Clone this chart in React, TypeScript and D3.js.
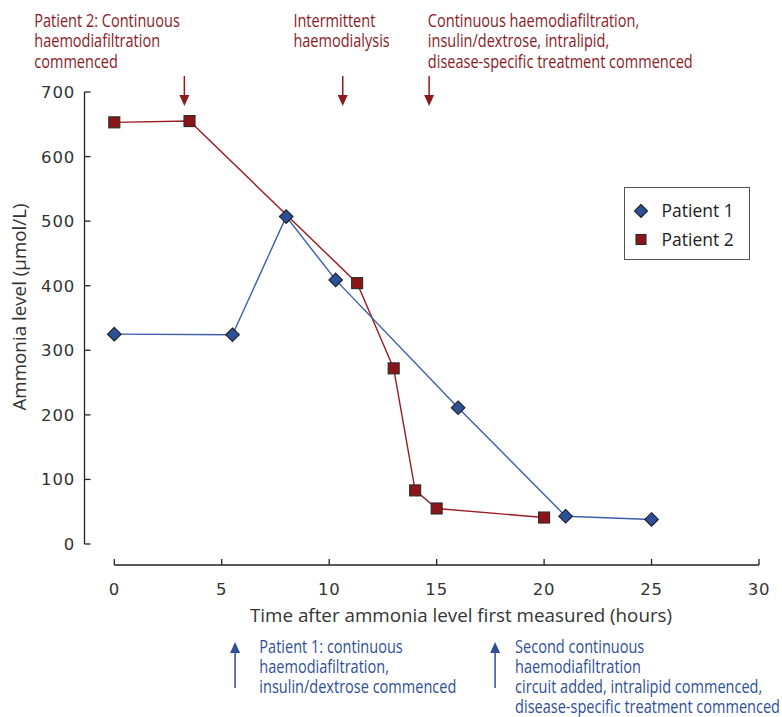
import React from "react";
import * as d3 from "d3";

const p1Time = [0, 5.5, 8, 10.3, 16, 21, 25];
const p1Value = [325, 324, 507, 409, 211, 43, 38];
const p2Time = [0, 3.5, 11.3, 13, 14, 15, 20];
const p2Value = [653, 655, 404, 272, 83, 55, 41];

const xTicks = [0, 5, 10, 15, 20, 25, 30];
const yTicks = [0, 100, 200, 300, 400, 500, 600, 700];

const topEventTimes = [3.26, 10.63, 14.65];
const topTextTimes = [-3.725, 8.333, 14.59];
const topEventLines = [
  ["Patient 2: Continuous", "haemodiafiltration", "commenced"],
  ["Intermittent", "haemodialysis"],
  ["Continuous haemodiafiltration,", "insulin/dextrose, intralipid,", "disease-specific treatment commenced"],
];

const bottomEventTimes = [5.62, 17.72];
const bottomTextTimes = [6.75, 18.65];
const bottomEventLines = [
  ["Patient 1: continuous", "haemodiafiltration,", "insulin/dextrose commenced"],
  ["Second continuous", "haemodiafiltration", "circuit added, intralipid commenced,", "disease-specific treatment commenced"],
];

const RED = "#8d1a1f";
const BLUE = "#2f4f96";
const RED_LINE = "#9a1c22";
const BLUE_LINE = "#3a5fab";
const RED_FILL = "#8c1519";
const BLUE_FILL = "#2d5199";
const annFont = "'Open Sans', sans-serif";
const mainFont = "'Open Sans', sans-serif";
const tickFont = "'DejaVu Sans', sans-serif";
const SQ = 0.83;

export default function App() {
  const W = 782, H = 717;
  const x = d3.scaleLinear().domain([0, 30]).range([114.3, 759]);
  const y = d3.scaleLinear().domain([0, 700]).range([544, 92]);
  const xAxisY = 565;
  const yAxisX = 84.5;

  const line = d3.line<[number, number]>().x(d => x(d[0])).y(d => y(d[1]));
  const p1: [number, number][] = p1Time.map((t, i) => [t, p1Value[i]]);
  const p2: [number, number][] = p2Time.map((t, i) => [t, p2Value[i]]);

  const diamond = (cx: number, cy: number, r = 6.8) =>
    `M${cx},${cy - r}L${cx + r},${cy}L${cx},${cy + r}L${cx - r},${cy}Z`;

  const annotation = (lines: string[], x0: number, y0: number, gap: number, color: string, key: string) => (
    <g key={key} transform={`translate(${x0},0) scale(${SQ},1)`}>
      {lines.map((l, j) => (
        <text key={j} x={0} y={y0 + j * gap} fontFamily={annFont} fontSize={17.5} fill={color}>{l}</text>
      ))}
    </g>
  );

  return (
    <svg width={W} height={H} style={{ position: "absolute", left: 0, top: 0 }}>
      <rect x={0} y={0} width={W} height={H} fill="#fff" />
      {/* y axis */}
      <line x1={yAxisX} x2={yAxisX} y1={y(700)} y2={y(0)} stroke="#222" strokeWidth={1.3} />
      {yTicks.map(t => (
        <g key={"y" + t}>
          <line x1={yAxisX} x2={yAxisX + 6} y1={y(t)} y2={y(t)} stroke="#222" strokeWidth={1.3} />
          <text x={75} y={y(t)} dy="0.36em" textAnchor="end" fontFamily={tickFont} fontSize={16.5} letterSpacing={0.8} fill="#333">{t}</text>
        </g>
      ))}
      {/* x axis */}
      <line x1={x(0)} x2={x(30)} y1={xAxisY} y2={xAxisY} stroke="#222" strokeWidth={1.3} />
      {xTicks.map(t => (
        <g key={"x" + t}>
          <line x1={x(t)} x2={x(t)} y1={xAxisY} y2={xAxisY - 6} stroke="#222" strokeWidth={1.3} />
          <text x={x(t)} y={589} dy="0.36em" textAnchor="middle" fontFamily={tickFont} fontSize={16.5} letterSpacing={0.8} fill="#333">{t}</text>
        </g>
      ))}
      <text x={250} y={622} fontFamily={mainFont} fontSize={18.8} fill="#333">Time after ammonia level first measured (hours)</text>
      <text transform={`translate(26,307) rotate(-90)`} textAnchor="middle" fontFamily={mainFont} fontSize={18.8} fill="#333">Ammonia level (µmol/L)</text>

      {/* lines */}
      <path d={line(p2) || ""} fill="none" stroke={RED_LINE} strokeWidth={1.4} />
      <path d={line(p1) || ""} fill="none" stroke={BLUE_LINE} strokeWidth={1.4} />
      {/* markers */}
      {p2.map((d, i) => (
        <rect key={"s" + i} x={x(d[0]) - 5.5} y={y(d[1]) - 5.5} width={11} height={11} fill={RED_FILL} stroke="#2a2a2a" strokeWidth={1.1} />
      ))}
      {p1.map((d, i) => (
        <path key={"d" + i} d={diamond(x(d[0]), y(d[1]))} fill={BLUE_FILL} stroke="#1e1e1e" strokeWidth={1.1} />
      ))}

      {/* legend */}
      <rect x={624.5} y={187.5} width={125} height={72} fill="#fff" stroke="#555" strokeWidth={1} />
      <path d={diamond(641, 211, 6.5)} fill={BLUE_FILL} stroke="#1e1e1e" strokeWidth={1.1} />
      <text x={661.5} y={211} dy="0.36em" fontFamily={mainFont} fontSize={17.5} fill="#222">Patient 1</text>
      <rect x={641 - 5} y={239.5 - 5} width={10} height={10} fill={RED_FILL} stroke="#2a2a2a" strokeWidth={1.1} />
      <text x={661.5} y={239.5} dy="0.36em" fontFamily={mainFont} fontSize={17.5} fill="#222">Patient 2</text>

      {/* top annotations */}
      {topEventLines.map((lines, i) => annotation(lines, x(topTextTimes[i]), 27, 20.4, RED, "tt" + i))}
      {topEventTimes.map((t, i) => (
        <g key={"ta" + i}>
          <line x1={x(t)} x2={x(t)} y1={76} y2={100} stroke={RED} strokeWidth={1.5} />
          <path d={`M${x(t) - 5},${95}L${x(t) + 5},${95}L${x(t)},${106}Z`} fill={RED} />
        </g>
      ))}

      {/* bottom annotations */}
      {bottomEventLines.map((lines, i) => annotation(lines, x(bottomTextTimes[i]), 653, 20, BLUE, "bt" + i))}
      {bottomEventTimes.map((t, i) => (
        <g key={"ba" + i}>
          <line x1={x(t)} x2={x(t)} y1={650} y2={688} stroke={BLUE} strokeWidth={1.5} />
          <path d={`M${x(t) - 5},${653}L${x(t) + 5},${653}L${x(t)},${642}Z`} fill={BLUE} />
        </g>
      ))}
    </svg>
  );
}
